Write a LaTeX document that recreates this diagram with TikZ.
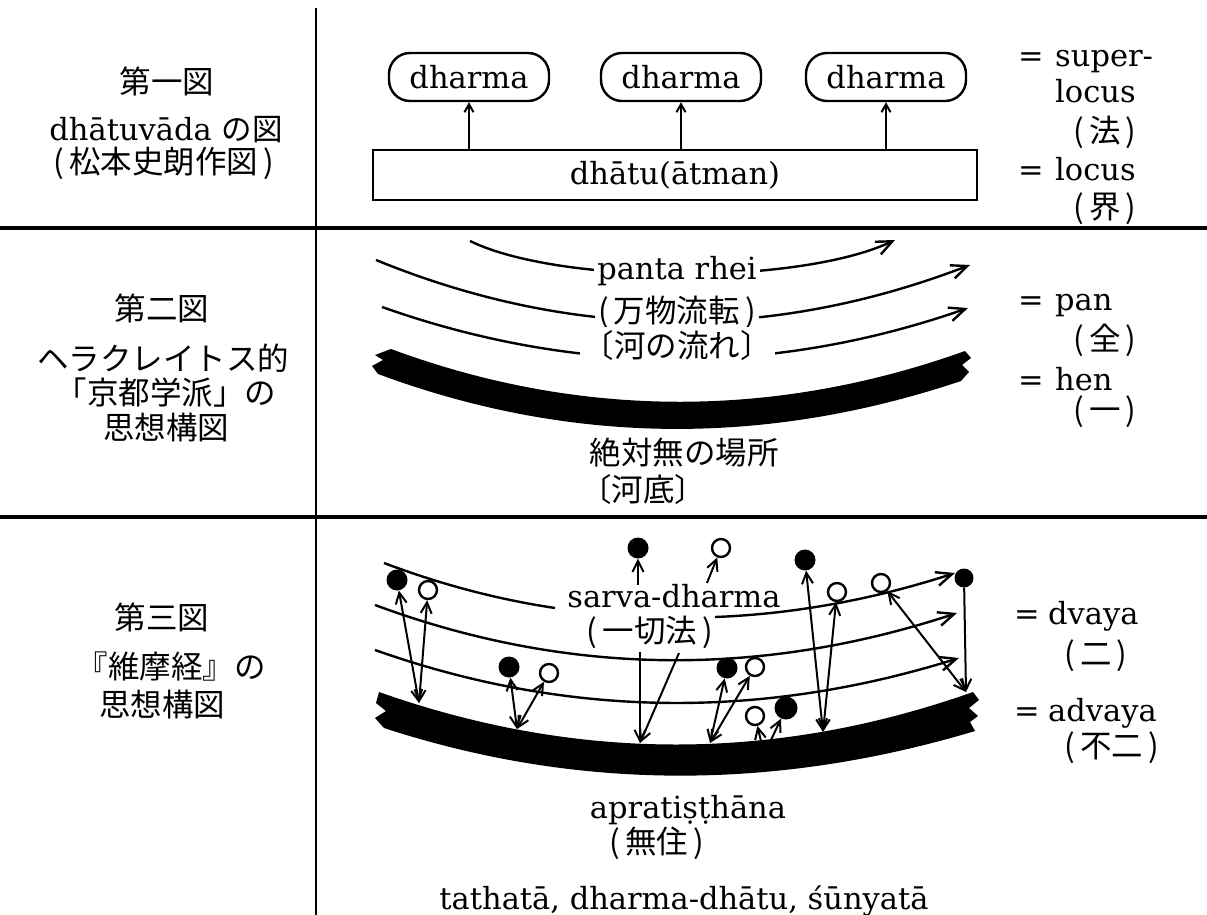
\documentclass[tikz,border=0pt]{standalone}
\usepackage{fontspec}
\setmainfont{DejaVu Serif}
\newfontfamily\jp{Noto Sans CJK JP}
\usetikzlibrary{arrows.meta}
\begin{document}
\begin{tikzpicture}[x=1pt,y=-1pt,
  lat/.style={font=\fontsize{30.5}{34}\selectfont, inner sep=0pt},
  cjk/.style={font=\fontsize{31.5}{35}\selectfont\jp, inner sep=0pt},
  thinln/.style={line width=2.4pt},
  sepln/.style={line width=3.2pt},
  toparr/.style={line width=2pt,-{Straight Barb[length=8pt,width=9pt]}},
  flow/.style={line width=2.4pt,-{Straight Barb[length=16pt,width=14pt]}},
  arr/.style={line width=2pt,-{Straight Barb[length=11pt,width=11pt]}},
  dbl/.style={line width=2pt,{Straight Barb[length=11pt,width=11pt]}-{Straight Barb[length=11pt,width=11pt]}},
  fdot/.style={circle,fill=black,minimum size=21pt,inner sep=0pt},
  hdot/.style={circle,draw,line width=2.4pt,fill=white,minimum size=18pt,inner sep=0pt},
  dbox/.style={draw,line width=2.4pt,rounded corners=21pt,minimum width=160pt,minimum height=48pt,font=\fontsize{30.5}{34}\selectfont},
  mask/.style={fill=white,inner xsep=3pt,inner ysep=4pt},
]
\useasboundingbox (0,0) rectangle (1207,915);

% ---------- frame ----------
\coordinate (vt) at (316,8); \coordinate (vb) at (316,915);
\draw[line width=2.8pt] (vt) -- (vb);
\coordinate (h1l) at (0,228); \coordinate (h1r) at (1207,228);
\draw[sepln] (h1l) -- (h1r);
\coordinate (h2l) at (0,517); \coordinate (h2r) at (1207,517);
\draw[sepln] (h2l) -- (h2r);

% ---------- left labels ----------
\node[cjk] (l1a) at (167,81) {第一図};
\node[lat,anchor=base] (l1b) at (166,140) {dhātuvāda {\jp の図}};
\node[cjk] (l1c) at (164,163) {(\,松本史朗作図\,)};

\node[cjk] (l2a) at (162,308) {第二図};
\node[cjk] (l2b) at (163,358) {ヘラクレイトス的};
\node[cjk] (l2c) at (166,393) {「京都学派」の};
\node[cjk] (l2d) at (166,428) {思想構図};

\node[cjk] (l3a) at (162,617) {第三図};
\node[cjk] (l3b) at (171,667) {『維摩経』の};
\node[cjk] (l3c) at (162,705) {思想構図};

% ---------- first figure ----------
\node[dbox] (dh1) at (469,77) {dharma};
\node[dbox] (dh2) at (681,77) {dharma};
\node[dbox] (dh3) at (886,77) {dharma};
\node[draw,line width=2.4pt,minimum width=604pt,minimum height=50pt,font=\fontsize{30.5}{34}\selectfont] (dhatu) at (675,175) {dhātu(ātman)};
\draw[toparr] (dhatu.north -| dh1.south) -- (dh1.south);
\draw[toparr] (dhatu.north -| dh2.south) -- (dh2.south);
\draw[toparr] (dhatu.north -| dh3.south) -- (dh3.south);

\node[lat,anchor=base] (e1) at (1031,67) {=};
\node[lat,anchor=base west] (r1) at (1055,67) {super-};
\node[lat,anchor=base west] (r2) at (1055,103) {locus};
\node[cjk,anchor=west] (r3) at (1073,132) {(\,法\,)};
\node[lat,anchor=base] (e2) at (1031,180) {=};
\node[lat,anchor=base west] (r4) at (1055,180) {locus};
\node[cjk,anchor=west] (r5) at (1073,209) {(\,界\,)};

% ---------- second figure ----------
\coordinate (a1s) at (470,241); \coordinate (a1e) at (895,240);
\draw[flow] (a1s) .. controls (560,285) and (800,285) .. (a1e);
\coordinate (a2s) at (376,260); \coordinate (a2e) at (970,265);
\draw[flow] (a2s) .. controls (574,341) and (772,341) .. (a2e);
\coordinate (a3s) at (382,307); \coordinate (a3e) at (968,308);
\draw[flow] (a3s) .. controls (577,376) and (773,376) .. (a3e);

\node[lat,mask] (pr) at (677,271) {panta rhei};
\node[cjk,mask] (bm) at (677,312) {(\,万物流転\,)};
\node[cjk,mask] (kn) at (677,346) {〔河の流れ〕};

\fill (391,349) .. controls (580,419) and (775,419) .. (965,351)
  -- (971,358) -- (962,365) -- (969,372) -- (961,381)
  .. controls (767,446) and (572,446) .. (378,374)
  -- (372,366) -- (383,360) -- (375,355) -- cycle;

\node[cjk] (zm) at (684,453) {絶対無の場所};
\node[cjk] (kt) at (643,490) {〔河底〕};

\node[lat,anchor=base] (e3) at (1031,310) {=};
\node[lat,anchor=base west] (r6) at (1055,310) {pan};
\node[cjk,anchor=west] (r7) at (1073,340) {(\,全\,)};
\node[lat,anchor=base] (e4) at (1031,390) {=};
\node[lat,anchor=base west] (r8) at (1055,390) {hen};
\node[cjk,anchor=west] (r9) at (1073,412) {(\,一\,)};

% ---------- third figure ----------
\coordinate (c1s) at (384,563); \coordinate (c1a) at (555,608);
\draw[thinln] (c1s) .. controls (441,584.5) and (498,599.5) .. (c1a);
\coordinate (c1m) at (715,617); \coordinate (c1e) at (955,573);
\draw[flow] (c1m) .. controls (795,614) and (875,599) .. (c1e);
\coordinate (c2s) at (375,605); \coordinate (c2e) at (957,613);
\draw[flow] (c2s) .. controls (569,677) and (763,677) .. (c2e);
\coordinate (c3s) at (375,650); \coordinate (c3e) at (959,658);
\draw[flow] (c3s) .. controls (570,719) and (764,719) .. (c3e);

\fill (379,692) .. controls (577,762) and (775,762) .. (973,692)
  -- (979,700) -- (969,708) -- (978,716) -- (970,722) -- (975,731)
  .. controls (775,791) and (577,791) .. (384,728)
  -- (375,718) -- (386,711) -- (376,703) -- cycle;

\node[lat,anchor=base] (sd) at (674,607) {sarva-dharma};
\node[cjk] (ikh) at (650,632) {(\,一切法\,)};

% band points
\coordinate (bA) at (419,703);
\coordinate (bB) at (517,729);
\coordinate (bC) at (640,743);
\coordinate (bD) at (710,743);
\coordinate (bG) at (761,741);
\coordinate (bH) at (771,740);
\coordinate (bE) at (823,732);
\coordinate (bF) at (966,692);

% dots
\node[fdot] (d1) at (397,580) {};
\node[hdot] (d2) at (428,590) {};
\node[fdot] (d3) at (509,667) {};
\node[hdot] (d4) at (549,673) {};
\node[fdot] (d5) at (638,548) {};
\node[hdot] (d6) at (721,548) {};
\node[fdot] (d7) at (727,668) {};
\node[hdot] (d8) at (755,667) {};
\node[hdot] (d9) at (755,716) {};
\node[fdot,minimum size=23pt] (d10) at (786,708) {};
\node[fdot] (d11) at (805,560) {};
\node[hdot] (d12) at (837,592) {};
\node[hdot] (d13) at (881,583) {};
\node[fdot,minimum size=19pt] (d14) at (964,578) {};

\draw[dbl] (d1) -- (bA);
\draw[dbl] (d2) -- (bA);
\draw[dbl] (d3) -- (bB);
\draw[dbl] (d4) -- (bB);
\coordinate (s5) at (638,585); \coordinate (s6) at (707,583);
\draw[arr] (s5) -- (d5);
\draw[arr] (s6) -- (d6);
\coordinate (u5) at (640,652); \coordinate (u6) at (679,653);
\draw[arr] (u5) -- (bC);
\draw[arr] (u6) -- (bC);
\draw[dbl] (d7) -- (bD);
\draw[dbl] (d8) -- (bD);
\draw[arr] (bG) -- (d9);
\draw[arr] (bH) -- (d10);
\draw[dbl] (d11) -- (bE);
\draw[dbl] (d12) -- (bE);
\draw[dbl] (d13) -- (bF);
\draw[arr] (d14) -- (bF);

\node[lat,anchor=base] (apr) at (688,818) {apratiṣṭhāna};
\node[cjk] (mj) at (657,843) {(\,無住\,)};
\node[lat,anchor=base] (tds) at (684,909) {tathatā, dharma-dhātu, śūnyatā};

\node[lat,anchor=base] (e5) at (1027,624) {=};
\node[lat,anchor=base west] (r10) at (1048,624) {dvaya};
\node[cjk,anchor=west] (r11) at (1064,656) {(\,二\,)};
\node[lat,anchor=base] (e6) at (1027,721) {=};
\node[lat,anchor=base west] (r12) at (1048,721) {advaya};
\node[cjk,anchor=west] (r13) at (1064,748) {(\,不二\,)};
\end{tikzpicture}
\end{document}
